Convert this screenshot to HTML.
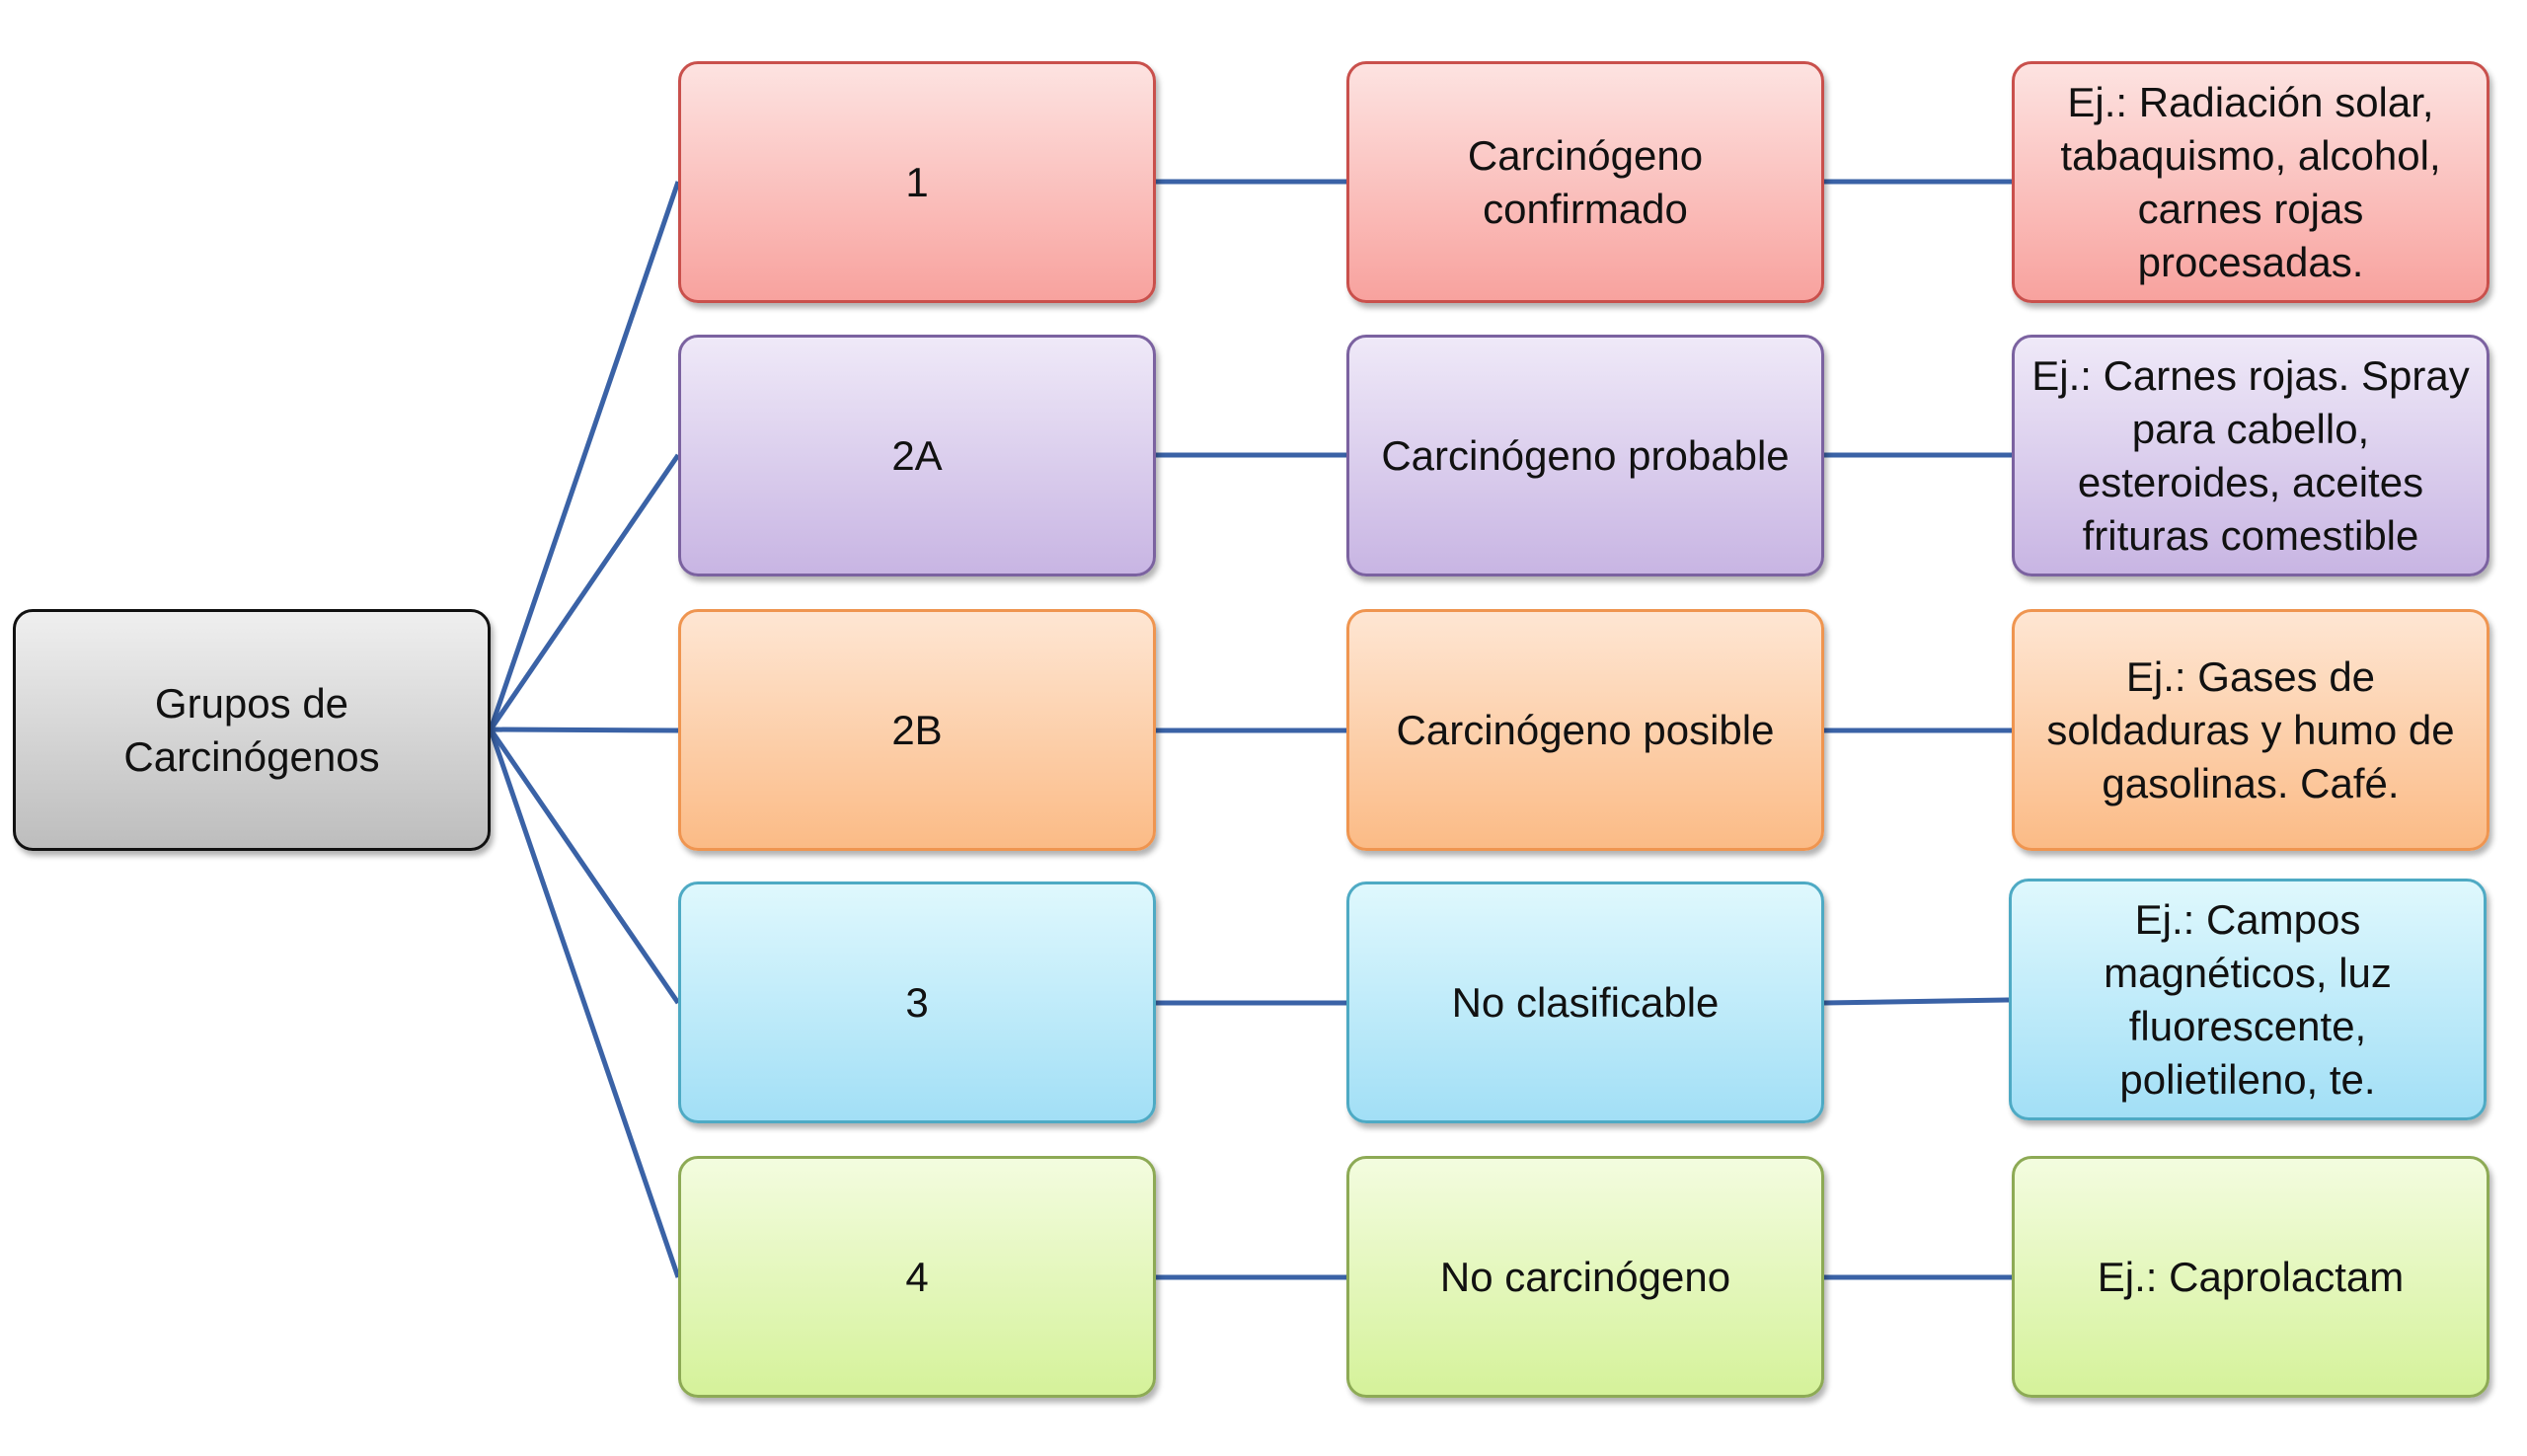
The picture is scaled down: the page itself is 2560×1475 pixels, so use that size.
<!DOCTYPE html>
<html><head><meta charset="utf-8"><style>
body{margin:0;width:2560px;height:1475px;background:#fff;position:relative;overflow:hidden;font-family:"Liberation Sans","DejaVu Sans",sans-serif}
.b{position:absolute;box-sizing:border-box;width:484px;height:245px;border-radius:20px;border:3px solid;display:flex;align-items:center;justify-content:center;text-align:center;font-size:42px;line-height:54px;color:#111;box-shadow:3px 5px 6px rgba(0,0,0,.3)}
.r1{background:linear-gradient(#fde3e1,#f8a29e);border-color:#c9504c}
.r2{background:linear-gradient(#efe9f8,#c8b5e3);border-color:#7b62a0}
.r3{background:linear-gradient(#fee6d3,#fbbb86);border-color:#ef9550}
.r4{background:linear-gradient(#dff8fd,#a2dff6);border-color:#4eaac4}
.r5{background:linear-gradient(#f3fcdf,#d5f29a);border-color:#8daa55}
.rt{background:linear-gradient(#efefef,#bdbdbd);border-color:#111}
svg{position:absolute;left:0;top:0}
</style></head><body>
<svg width="2560" height="1475"><g stroke="#3a62a6" stroke-width="5" fill="none">
<line x1="497" y1="739" x2="687" y2="184"/>
<line x1="497" y1="739" x2="687" y2="461"/>
<line x1="497" y1="739" x2="687" y2="740"/>
<line x1="497" y1="739" x2="687" y2="1016"/>
<line x1="497" y1="739" x2="687" y2="1294"/>
<line x1="1171" y1="184" x2="1364" y2="184"/><line x1="1848" y1="184" x2="2038" y2="184"/>
<line x1="1171" y1="461" x2="1364" y2="461"/><line x1="1848" y1="461" x2="2038" y2="461"/>
<line x1="1171" y1="740" x2="1364" y2="740"/><line x1="1848" y1="740" x2="2038" y2="740"/>
<line x1="1171" y1="1016" x2="1364" y2="1016"/><line x1="1848" y1="1016" x2="2035" y2="1013"/>
<line x1="1171" y1="1294" x2="1364" y2="1294"/><line x1="1848" y1="1294" x2="2038" y2="1294"/>
</g></svg>
<div class="b rt" style="left:13px;top:617px">Grupos de<br>Carcinógenos</div>
<div class="b r1" style="left:687px;top:62px">1</div>
<div class="b r1" style="left:1364px;top:62px">Carcinógeno<br>confirmado</div>
<div class="b r1" style="left:2038px;top:62px">Ej.: Radiación solar,<br>tabaquismo, alcohol,<br>carnes rojas<br>procesadas.</div>
<div class="b r2" style="left:687px;top:339px">2A</div>
<div class="b r2" style="left:1364px;top:339px">Carcinógeno probable</div>
<div class="b r2" style="left:2038px;top:339px">Ej.: Carnes rojas. Spray<br>para cabello,<br>esteroides, aceites<br>frituras comestible</div>
<div class="b r3" style="left:687px;top:617px">2B</div>
<div class="b r3" style="left:1364px;top:617px">Carcinógeno posible</div>
<div class="b r3" style="left:2038px;top:617px">Ej.: Gases de<br>soldaduras y humo de<br>gasolinas. Café.</div>
<div class="b r4" style="left:687px;top:893px">3</div>
<div class="b r4" style="left:1364px;top:893px">No clasificable</div>
<div class="b r4" style="left:2035px;top:890px">Ej.: Campos<br>magnéticos, luz<br>fluorescente,<br>polietileno, te.</div>
<div class="b r5" style="left:687px;top:1171px">4</div>
<div class="b r5" style="left:1364px;top:1171px">No carcinógeno</div>
<div class="b r5" style="left:2038px;top:1171px">Ej.: Caprolactam</div>
</body></html>
